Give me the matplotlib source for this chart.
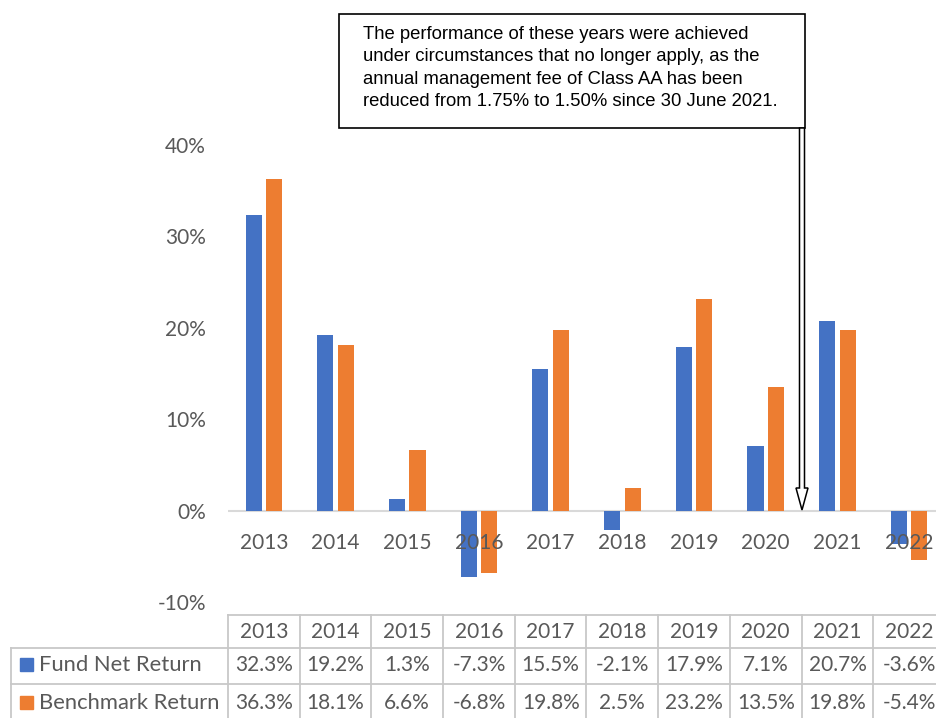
import matplotlib
matplotlib.use("Agg")
import matplotlib.pyplot as plt
from matplotlib.patches import Rectangle, FancyArrow

# Annual returns (%)
years = ["2013", "2014", "2015", "2016", "2017", "2018", "2019", "2020", "2021", "2022"]
fund_net_return = [32.3, 19.2, 1.3, -7.3, 15.5, -2.1, 17.9, 7.1, 20.7, -3.6]
benchmark_return = [36.3, 18.1, 6.6, -6.8, 19.8, 2.5, 23.2, 13.5, 19.8, -5.4]
series_names = ["Fund Net Return", "Benchmark Return"]
y_ticks = [-10, 0, 10, 20, 30, 40]
note = ("The performance of these years were achieved\n"
        "under circumstances that no longer apply, as the\n"
        "annual management fee of Class AA has been\n"
        "reduced from 1.75% to 1.50% since 30 June 2021.")

BLUE = "#4472C4"
ORANGE = "#ED7D31"
TEXT = "#595959"
GRID = "#D9D9D9"
FONT = "Lato"

W, H = 937, 718
fig = plt.figure(figsize=(W / 100, H / 100), dpi=100)


def fx(px):
    return px / W


n = len(years)
col_w = 71.7
plot_left = 228
plot_right = plot_left + n * col_w  # last column runs past the right edge
y_top, y_bot = 145, 602  # pixel rows of 40% and -10%
ax = fig.add_axes([fx(plot_left), 1 - y_bot / H, fx(plot_right - plot_left), (y_bot - y_top) / H])

xs = list(range(n))
bw = 0.225
gap = 0.06
off = (bw + gap) / 2
ax.bar([x - off for x in xs], fund_net_return, width=bw, color=BLUE, zorder=2)
ax.bar([x + off for x in xs], benchmark_return, width=bw, color=ORANGE, zorder=2)
ax.axhline(0, color=GRID, lw=1.5, zorder=1)

ax.set_xlim(-0.5, n - 0.5)
ax.set_ylim(-10, 40)
ax.set_yticks(y_ticks)
ax.set_yticklabels([f"{v}%" for v in y_ticks], fontfamily=FONT, fontsize=15, color=TEXT)
ax.tick_params(axis="y", length=0, pad=16)
ax.set_xticks([])
for s in ax.spines.values():
    s.set_visible(False)
ax.patch.set_alpha(0)

# category labels just under the zero line
for x, yr in zip(xs, years):
    ax.annotate(yr, (x, 0), xytext=(0, -23.5), textcoords="offset points",
                ha="center", va="center", fontfamily=FONT, fontsize=15,
                color=TEXT, zorder=5, annotation_clip=False)

# overlay in pixel coordinates for the data table and the note
ov = fig.add_axes([0, 0, 1, 1])
ov.set_xlim(0, W)
ov.set_ylim(H, 0)
ov.axis("off")
ov.patch.set_alpha(0)

row_y = [615, 648, 684, 724]
line_kw = dict(color="#C8C8C8", lw=1.3)
ov.plot([plot_left, plot_right], [row_y[0]] * 2, **line_kw)
for ry in row_y[1:]:
    ov.plot([11, plot_right], [ry] * 2, **line_kw)
for i in range(n + 1):
    xv = plot_left + i * col_w
    ov.plot([xv, xv], [row_y[0], row_y[-1]], **line_kw)
ov.plot([11, 11], [row_y[1], row_y[-1]], **line_kw)

row_centers = [632, 665, 703]
for i, yr in enumerate(years):
    cx = plot_left + (i + 0.5) * col_w
    ov.text(cx, row_centers[0], yr, ha="center", va="center",
            fontfamily=FONT, fontsize=15, color=TEXT)
    for r, vals in enumerate([fund_net_return, benchmark_return]):
        ov.text(cx, row_centers[r + 1], f"{vals[i]:.1f}%",
                ha="center", va="center", fontfamily=FONT, fontsize=15, color=TEXT)

for r, (name, col) in enumerate(zip(series_names, [BLUE, ORANGE])):
    cy = row_centers[r + 1]
    ov.add_patch(Rectangle((20, cy - 7), 13, 13, color=col))
    ov.text(39, cy, name, ha="left", va="center", fontfamily=FONT,
            fontsize=15.8, color=TEXT)

# note box with arrow pointing at mid-2021
ov.add_patch(Rectangle((339, 14), 466, 114, facecolor="white",
                       edgecolor="black", lw=1.2, zorder=3))
ov.text(363, 26, note, ha="left", va="top", fontfamily="Liberation Sans",
        fontsize=13.3, color="black", linespacing=1.42, zorder=4)
ov.add_patch(FancyArrow(802, 128, 0, 382, width=5, head_width=12,
                        head_length=22, length_includes_head=True,
                        facecolor="white", edgecolor="black", lw=1.1, zorder=4))

fig.savefig("out.png", dpi=100)
